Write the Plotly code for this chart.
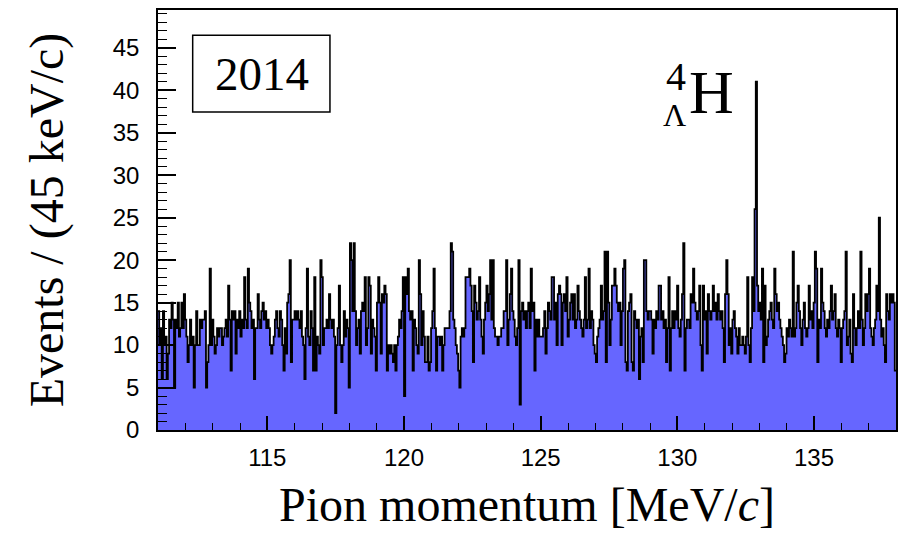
import plotly.graph_objects as go

# Histogram definition: 600 bins of 45 keV/c from 111 to 138 MeV/c
X_MIN = 111.0
BIN_WIDTH = 0.045

counts_a = [14, 10, 12, 6, 14, 10, 11, 6, 9, 13, 12, 15, 13, 5, 13, 12, 15, 11, 12, 15,
            12, 16, 13, 11, 8, 10, 13, 10, 11, 5, 10, 14, 10, 10, 13, 12, 13, 13, 14, 5,
            8, 10, 19, 10, 13, 11, 9, 10, 12, 11, 12, 12, 10, 11, 12, 13, 11, 17, 13, 7,
            14, 13, 14, 9, 13, 12, 14, 11, 13, 12, 18, 13, 12, 19, 15, 14, 12, 13, 6, 12,
            12, 16, 13, 12, 14, 15, 13, 14, 12, 13, 12, 10, 9, 10, 11, 13, 14, 12, 11, 14]
counts_b = [13, 10, 7, 12, 9, 15, 16, 20, 8, 13, 13, 14, 13, 14, 13, 12, 14, 11, 10, 6,
            12, 19, 11, 10, 14, 12, 7, 18, 7, 11, 10, 9, 20, 18, 10, 12, 12, 13, 12, 16,
            13, 12, 13, 11, 2, 10, 12, 17, 10, 8, 10, 14, 11, 13, 12, 5, 22, 20, 14, 22,
            14, 10, 12, 13, 9, 14, 15, 14, 18, 10, 12, 18, 17, 9, 13, 12, 11, 7, 15, 18,
            15, 9, 16, 15, 17, 16, 7, 10, 9, 10, 9, 8, 10, 7, 10, 11, 13, 12, 14, 18]
counts_c = [4, 18, 16, 19, 14, 13, 14, 7, 13, 12, 10, 9, 20, 16, 10, 14, 11, 8, 8, 11,
            7, 8, 12, 14, 19, 12, 7, 11, 11, 10, 11, 7, 10, 12, 12, 12, 12, 14, 22, 21,
            13, 12, 10, 9, 7, 5, 11, 12, 11, 12, 18, 18, 18, 19, 17, 14, 8, 17, 15, 13,
            14, 18, 13, 11, 9, 13, 15, 17, 14, 16, 20, 13, 20, 12, 11, 11, 10, 11, 11, 12,
            12, 14, 14, 20, 10, 13, 16, 19, 14, 13, 11, 10, 12, 20, 3, 14, 15, 13, 14, 12]
counts_d = [14, 15, 12, 19, 14, 15, 7, 13, 11, 13, 11, 11, 11, 12, 14, 9, 12, 15, 14, 13,
            18, 18, 13, 15, 10, 16, 17, 16, 10, 15, 16, 14, 18, 11, 13, 15, 16, 13, 16, 12,
            13, 17, 14, 13, 12, 11, 13, 18, 12, 13, 19, 12, 14, 13, 10, 9, 8, 11, 12, 13,
            17, 13, 14, 21, 8, 21, 15, 10, 13, 17, 17, 19, 17, 15, 14, 15, 10, 14, 19, 20,
            8, 7, 14, 15, 16, 8, 7, 14, 13, 12, 13, 6, 11, 12, 8, 20, 20, 14, 13, 14]
counts_e = [14, 13, 9, 13, 12, 14, 13, 17, 17, 13, 14, 12, 13, 8, 12, 18, 7, 12, 14, 12,
            14, 13, 17, 12, 11, 13, 16, 22, 7, 12, 13, 13, 12, 16, 15, 19, 15, 14, 13, 14,
            17, 10, 7, 17, 13, 14, 9, 16, 14, 13, 14, 17, 14, 15, 13, 16, 14, 13, 14, 12,
            8, 16, 20, 16, 10, 12, 9, 13, 14, 12, 11, 9, 12, 10, 10, 11, 10, 9, 11, 18,
            10, 8, 12, 18, 14, 26, 41, 17, 14, 15, 13, 19, 8, 17, 10, 11, 13, 14, 15, 13]
counts_f = [12, 19, 16, 14, 15, 13, 12, 11, 10, 8, 9, 12, 11, 13, 12, 11, 21, 11, 12, 15,
            17, 14, 12, 10, 13, 15, 12, 11, 12, 17, 13, 14, 12, 15, 21, 19, 8, 13, 12, 19,
            15, 14, 12, 11, 13, 12, 14, 17, 13, 14, 16, 12, 11, 13, 12, 8, 12, 13, 14, 21,
            10, 11, 13, 9, 8, 16, 12, 10, 12, 14, 12, 21, 13, 10, 12, 16, 14, 16, 19, 12,
            11, 10, 12, 13, 17, 14, 25, 13, 11, 12, 10, 8, 16, 14, 13, 16, 15, 16, 15, 7]

counts = counts_a + counts_b + counts_c + counts_d + counts_e + counts_f

x_tick_vals = [115, 120, 125, 130, 135]
x_tick_text = ["115", "120", "125", "130", "135"]
y_tick_vals = [0, 5, 10, 15, 20, 25, 30, 35, 40, 45]
y_tick_text = [str(v) for v in y_tick_vals]

year_label = "2014"
x_title = "Pion momentum [MeV/<i>c</i>]"
y_title = "Events / (45 keV/c)"

# step-histogram coordinates: left edges + final right edge
n_bins = len(counts)
edges = [X_MIN + BIN_WIDTH * i for i in range(n_bins + 1)]
xs = edges
ys = counts + [counts[-1]]

fig = go.Figure()
fig.add_trace(go.Scatter(
    x=xs, y=ys, mode="lines", line_shape="hv",
    line=dict(color="black", width=1.8),
    fill="tozeroy", fillcolor="rgb(102,102,255)",
    hoverinfo="x+y", showlegend=False,
))

tick_font = dict(family="Liberation Sans, Arial, sans-serif", size=24, color="black")
serif = "Liberation Serif, Times New Roman, serif"

fig.update_xaxes(
    range=[X_MIN, X_MIN + BIN_WIDTH * n_bins],
    tickmode="array", tickvals=x_tick_vals, ticktext=x_tick_text,
    ticks="inside", ticklen=14, tickwidth=1.5, tickcolor="black",
    minor=dict(dtick=1, tick0=0, ticks="inside", ticklen=7, tickwidth=1.2, tickcolor="black"),
    showline=True, linecolor="black", linewidth=1.5, mirror=True,
    showgrid=False, zeroline=False, automargin=False,
    tickfont=tick_font, ticklabelstandoff=5,
    title=dict(text=x_title, font=dict(family=serif, size=48, color="black"), standoff=18),
)
fig.update_yaxes(
    range=[0, 49.45],
    tickmode="array", tickvals=y_tick_vals, ticktext=y_tick_text,
    ticks="inside", ticklen=18, tickwidth=1.5, tickcolor="black",
    minor=dict(dtick=1, tick0=0, ticks="inside", ticklen=9, tickwidth=1.2, tickcolor="black"),
    showline=True, linecolor="black", linewidth=1.5, mirror=True,
    showgrid=False, zeroline=False, automargin=False,
    tickfont=tick_font, ticklabelstandoff=12,
    title=dict(text=y_title, font=dict(family=serif, size=48, color="black"), standoff=34),
)

fig.add_shape(type="rect", xref="paper", yref="paper",
              x0=0.047, x1=0.233, y0=0.757, y1=0.940,
              line=dict(color="black", width=1.5), fillcolor="white", layer="above")
fig.add_annotation(text=year_label, xref="paper", yref="paper", x=0.141, y=0.848,
                   xanchor="center", yanchor="middle",
                   showarrow=False, font=dict(family=serif, size=47, color="black"))
fig.add_annotation(text="H", xref="paper", yref="paper", x=0.750, y=0.805,
                   xanchor="center", yanchor="middle",
                   showarrow=False, font=dict(family=serif, size=62, color="black"))
fig.add_annotation(text="4", xref="paper", yref="paper", x=0.702, y=0.842,
                   xanchor="center", yanchor="middle",
                   showarrow=False, font=dict(family=serif, size=40, color="black"))
fig.add_annotation(text="Λ", xref="paper", yref="paper", x=0.700, y=0.750,
                   xanchor="center", yanchor="middle",
                   showarrow=False, font=dict(family=serif, size=32, color="black"))

# The page body has an 8 px margin, so the figure is shrunk by that amount
fig.update_layout(
    width=904, height=525,
    margin=dict(l=150, r=16, t=2, b=103),
    paper_bgcolor="white", plot_bgcolor="white",
)

fig.write_html("out.html")
